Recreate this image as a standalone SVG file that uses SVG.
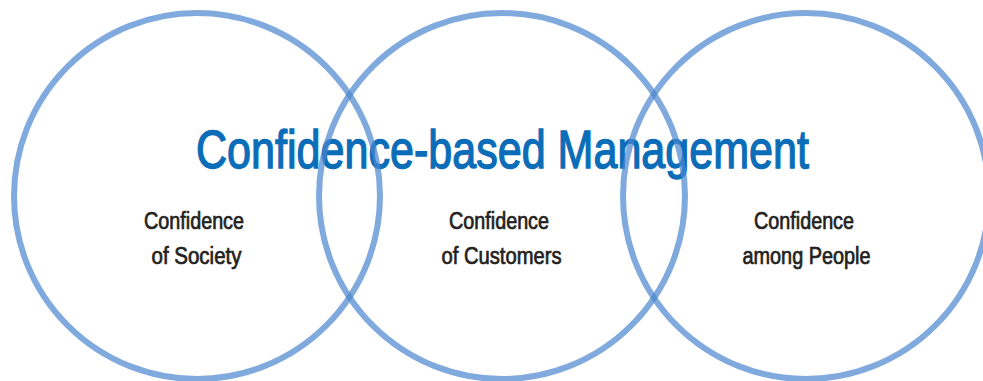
<svg xmlns="http://www.w3.org/2000/svg" width="983" height="381" viewBox="0 0 983 381">
  <style>
    .title { font-family: "Liberation Sans", Arial, sans-serif; font-size: 53px; fill: #0B6DB8; stroke: #0B6DB8; stroke-width: 1.4; }
    .label { font-family: "Liberation Sans", Arial, sans-serif; font-size: 23px; fill: #231F20; stroke: #231F20; stroke-width: 0.7; text-anchor: middle; }
    .ring { fill: none; stroke: #4A86CF; stroke-width: 6; stroke-opacity: 0.7; }
  </style>
  <rect width="983" height="381" fill="#FFFFFF"/>
  <text id="title" class="title" x="196" y="168" textLength="613" lengthAdjust="spacingAndGlyphs">Confidence-based Management</text>
  <g id="society">
    <circle class="ring" cx="197" cy="196" r="183"/>
    <text class="label" x="194" y="229" textLength="100" lengthAdjust="spacingAndGlyphs">Confidence</text>
    <text class="label" x="196.5" y="264" textLength="90" lengthAdjust="spacingAndGlyphs">of Society</text>
  </g>
  <g id="customers">
    <circle class="ring" cx="502" cy="196" r="183"/>
    <text class="label" x="499" y="229" textLength="100" lengthAdjust="spacingAndGlyphs">Confidence</text>
    <text class="label" x="501.5" y="264" textLength="120" lengthAdjust="spacingAndGlyphs">of Customers</text>
  </g>
  <g id="people">
    <circle class="ring" cx="806" cy="196" r="183"/>
    <text class="label" x="804" y="229" textLength="100" lengthAdjust="spacingAndGlyphs">Confidence</text>
    <text class="label" x="806.5" y="264" textLength="128" lengthAdjust="spacingAndGlyphs">among People</text>
  </g>
  <g id="connectors"/>
</svg>
